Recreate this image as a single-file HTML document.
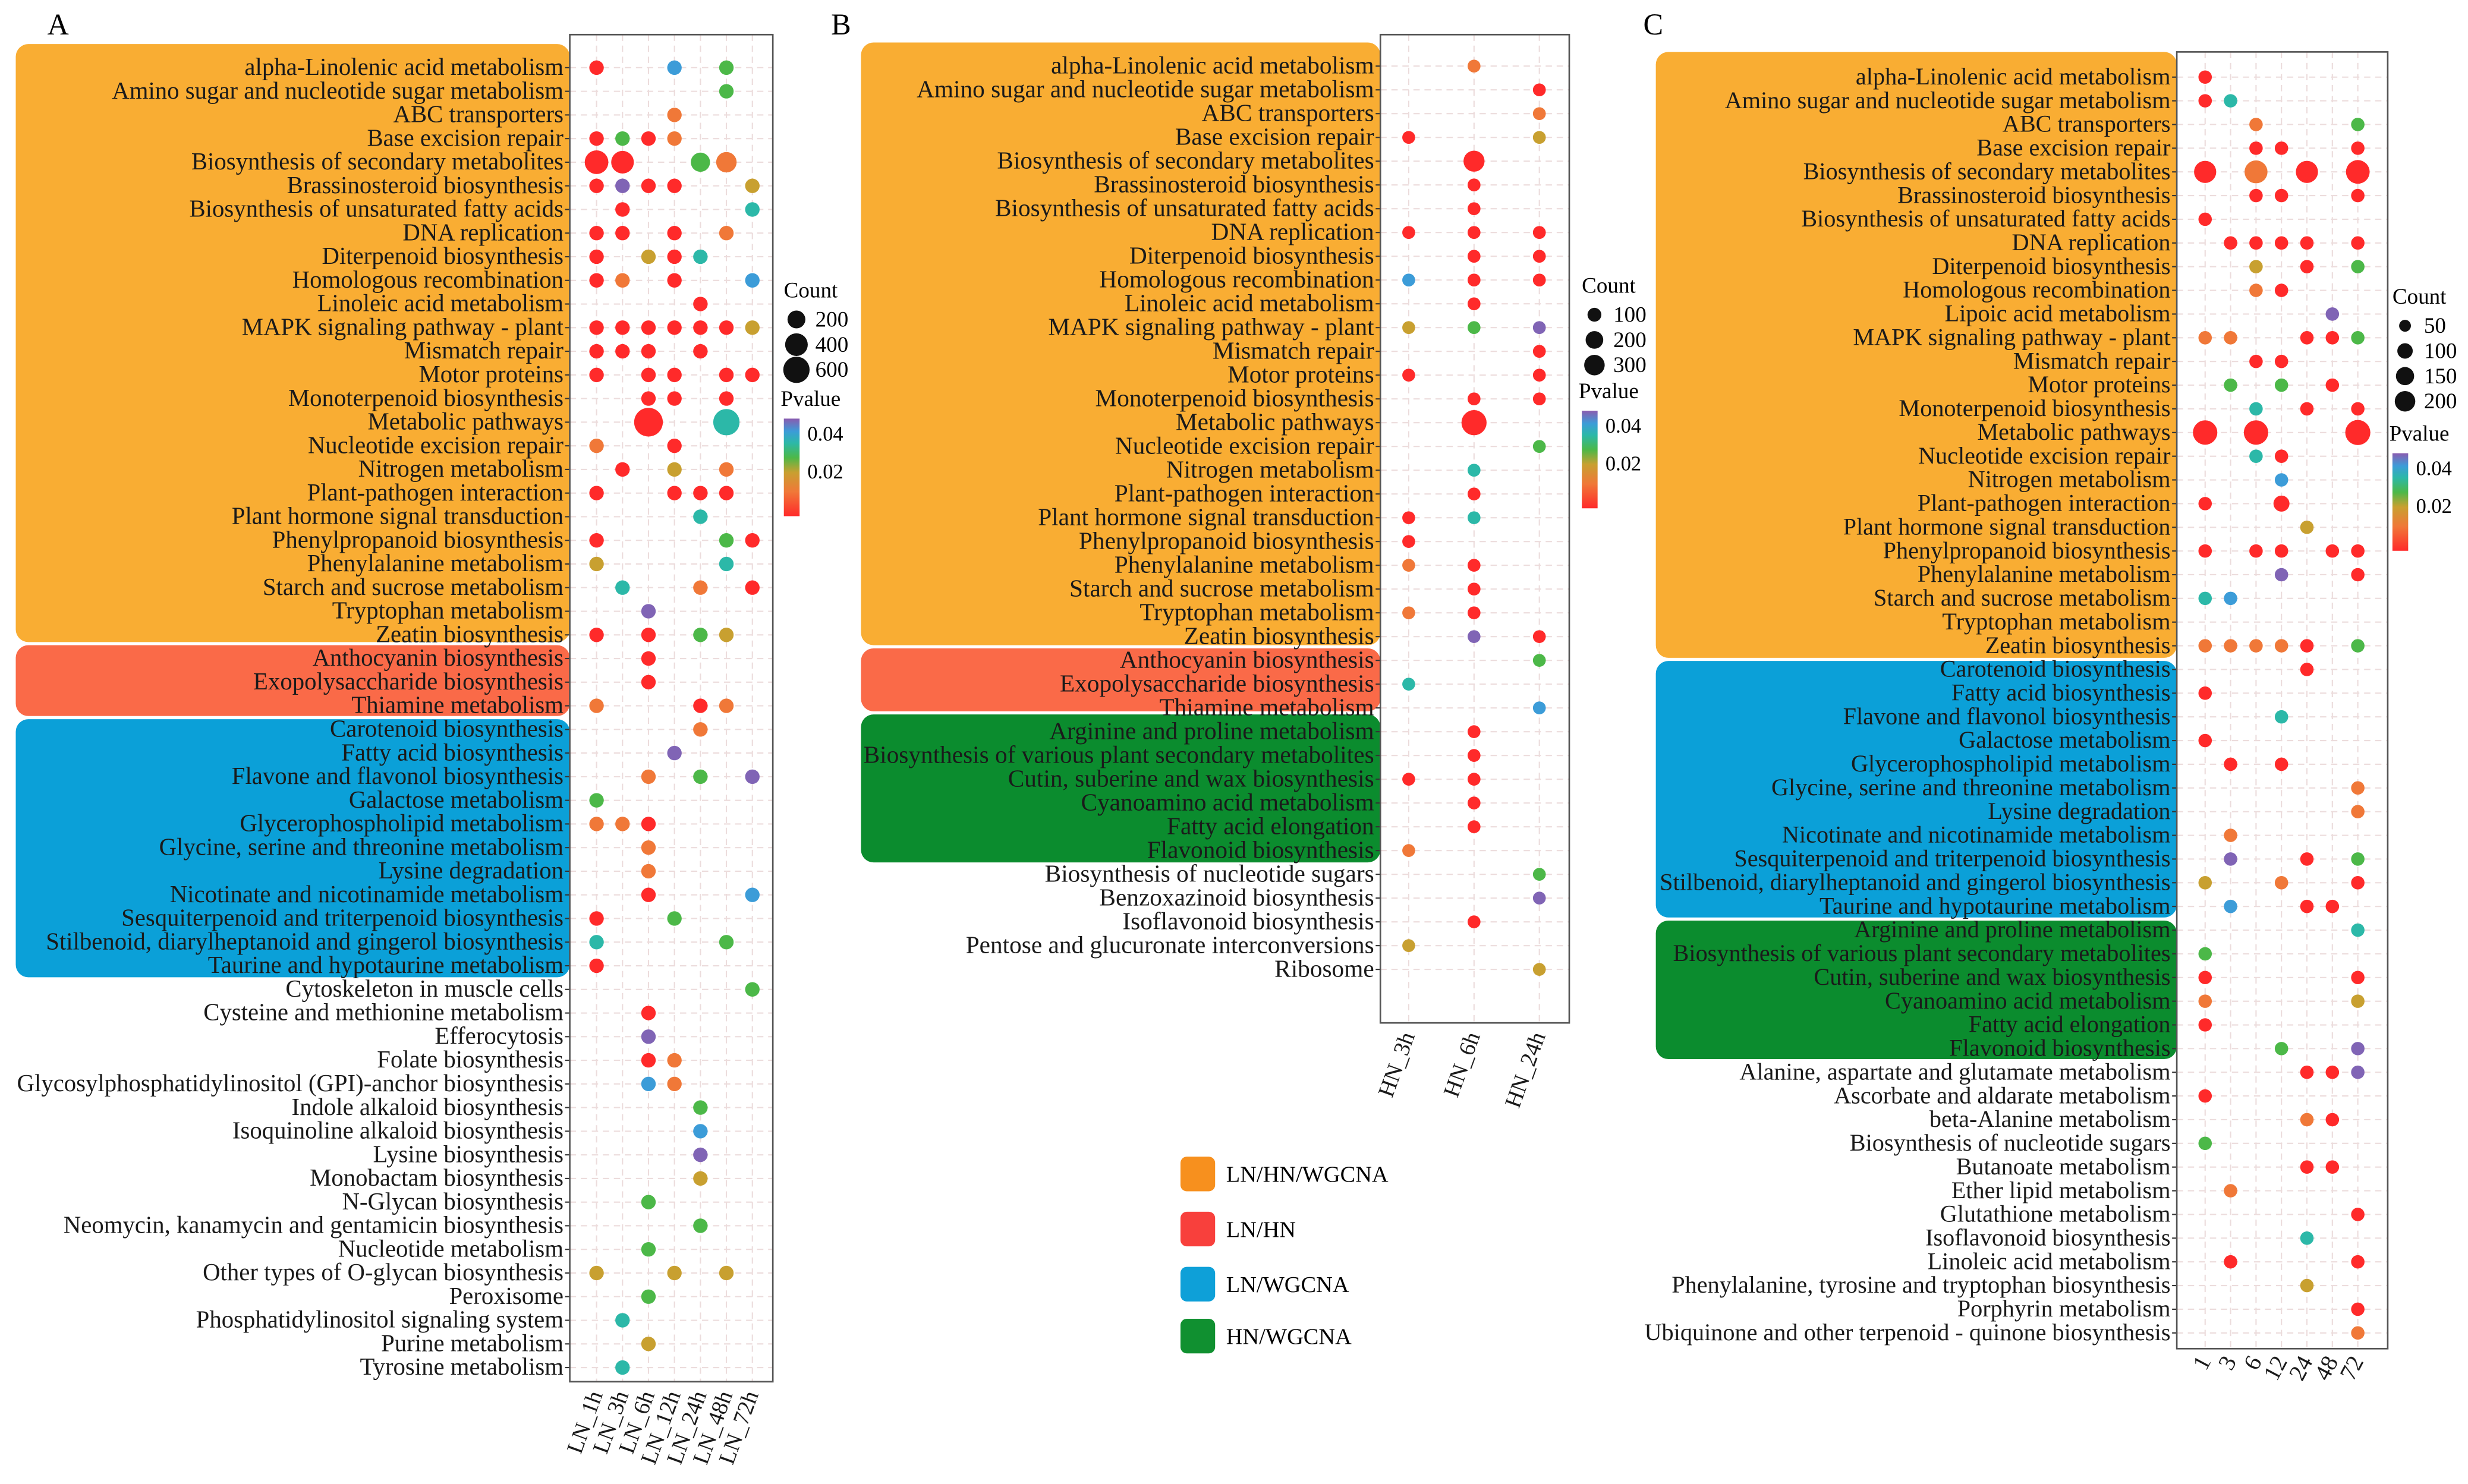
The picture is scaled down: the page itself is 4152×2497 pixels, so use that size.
<!DOCTYPE html>
<html><head><meta charset="utf-8"><style>
html,body{margin:0;padding:0;background:#fff;}
svg{display:block;font-family:"Liberation Serif",serif;}
</style></head><body>
<svg id="fig" xmlns="http://www.w3.org/2000/svg" width="4152" height="2497" viewBox="0 0 1568 943">
<text x="30" y="22" font-size="19">A</text>
<text x="528" y="22" font-size="19">B</text>
<text x="1044" y="22" font-size="19">C</text>
<g id="catlegend">
<rect x="750" y="735" width="22" height="22" rx="4" fill="#f7901e"/>
<text x="779" y="751" font-size="14.5">LN/HN/WGCNA</text>
<rect x="750" y="770" width="22" height="22" rx="4" fill="#f8403c"/>
<text x="779" y="786" font-size="14.5">LN/HN</text>
<rect x="750" y="805" width="22" height="22" rx="4" fill="#0ea0d8"/>
<text x="779" y="821" font-size="14.5">LN/WGCNA</text>
<rect x="750" y="838" width="22" height="22" rx="4" fill="#109030"/>
<text x="779" y="854" font-size="14.5">HN/WGCNA</text>
</g>
<defs><linearGradient id="pg" x1="0" y1="1" x2="0" y2="0">
<stop offset="0" stop-color="#ff2a2a"/><stop offset="0.25" stop-color="#f07838"/><stop offset="0.45" stop-color="#c8a030"/><stop offset="0.6" stop-color="#4cb848"/><stop offset="0.75" stop-color="#2cb8a8"/><stop offset="0.87" stop-color="#3c9cd8"/><stop offset="1" stop-color="#8a5cb0"/>
</linearGradient></defs>
</svg>
<script>
// ---------- DATA ----------
const rowsA = ["alpha-Linolenic acid metabolism","Amino sugar and nucleotide sugar metabolism","ABC transporters","Base excision repair","Biosynthesis of secondary metabolites","Brassinosteroid biosynthesis","Biosynthesis of unsaturated fatty acids","DNA replication","Diterpenoid biosynthesis","Homologous recombination","Linoleic acid metabolism","MAPK signaling pathway - plant","Mismatch repair","Motor proteins","Monoterpenoid biosynthesis","Metabolic pathways","Nucleotide excision repair","Nitrogen metabolism","Plant-pathogen interaction","Plant hormone signal transduction","Phenylpropanoid biosynthesis","Phenylalanine metabolism","Starch and sucrose metabolism","Tryptophan metabolism","Zeatin biosynthesis","Anthocyanin biosynthesis","Exopolysaccharide biosynthesis","Thiamine metabolism","Carotenoid biosynthesis","Fatty acid biosynthesis","Flavone and flavonol biosynthesis","Galactose metabolism","Glycerophospholipid metabolism","Glycine, serine and threonine metabolism","Lysine degradation","Nicotinate and nicotinamide metabolism","Sesquiterpenoid and triterpenoid biosynthesis","Stilbenoid, diarylheptanoid and gingerol biosynthesis","Taurine and hypotaurine metabolism","Cytoskeleton in muscle cells","Cysteine and methionine metabolism","Efferocytosis","Folate biosynthesis","Glycosylphosphatidylinositol (GPI)-anchor biosynthesis","Indole alkaloid biosynthesis","Isoquinoline alkaloid biosynthesis","Lysine biosynthesis","Monobactam biosynthesis","N-Glycan biosynthesis","Neomycin, kanamycin and gentamicin biosynthesis","Nucleotide metabolism","Other types of O-glycan biosynthesis","Peroxisome","Phosphatidylinositol signaling system","Purine metabolism","Tyrosine metabolism"];
const colsA = ["LN_1h","LN_3h","LN_6h","LN_12h","LN_24h","LN_48h","LN_72h"];
// per row: p-value code per column (r red .005, o orange .012, y olive .018, g green .024, t teal .03, b blue .036, p purple .043, . none)
const pvalA = ["r..b.g.",".....g.","...o...","rgro...","rr..go.","rprr..y",".r....t","rr.r.o.","r.yrt..","ro.r..b","....r..","rrrrrry","rrr.r..","r.rr.rr","..rr.r.","..r..t.","o..r...",".r.y.o.","r..rrr.","....t..","r....gr","y....t.",".t..o.r","..p....","r.r.gy.","..r....","..r....","o...ro.","....o..","...p...","..o.g.p","g......","oor....","..o....","..o....","..r...b","r..g...","t....g.","r......","......g","..r....","..p....","..ro...","..bo...","....g..","....b..","....p..","....y..","..g....","....g..","..g....","y..y.y.","..g....",".t.....","..y....",".t....."];
const bigA = [[4,0,450],[4,1,400],[4,4,250],[4,5,300],[15,2,750],[15,5,600]];
const countA = [200,400,600];

const rowsB = ["alpha-Linolenic acid metabolism","Amino sugar and nucleotide sugar metabolism","ABC transporters","Base excision repair","Biosynthesis of secondary metabolites","Brassinosteroid biosynthesis","Biosynthesis of unsaturated fatty acids","DNA replication","Diterpenoid biosynthesis","Homologous recombination","Linoleic acid metabolism","MAPK signaling pathway - plant","Mismatch repair","Motor proteins","Monoterpenoid biosynthesis","Metabolic pathways","Nucleotide excision repair","Nitrogen metabolism","Plant-pathogen interaction","Plant hormone signal transduction","Phenylpropanoid biosynthesis","Phenylalanine metabolism","Starch and sucrose metabolism","Tryptophan metabolism","Zeatin biosynthesis","Anthocyanin biosynthesis","Exopolysaccharide biosynthesis","Thiamine metabolism","Arginine and proline metabolism","Biosynthesis of various plant secondary metabolites","Cutin, suberine and wax biosynthesis","Cyanoamino acid metabolism","Fatty acid elongation","Flavonoid biosynthesis","Biosynthesis of nucleotide sugars","Benzoxazinoid biosynthesis","Isoflavonoid biosynthesis","Pentose and glucuronate interconversions","Ribosome"];
const colsB = ["HN_3h","HN_6h","HN_24h"];
const pvalB = [".o.","..r","..o","r.y",".r.",".r.",".r.","rrr",".rr","brr",".r.","ygp","..r","r.r",".rr",".r.","..g",".t.",".r.","rt.","r..","or.",".r.","or.",".pr","..g","t..","..b",".r.",".r.","rr.",".r.",".r.","o..","..g","..p",".r.","y..","..y"];
const bigB = [[4,1,320],[15,1,500]];
const countB = [100,200,300];

const rowsC = ["alpha-Linolenic acid metabolism","Amino sugar and nucleotide sugar metabolism","ABC transporters","Base excision repair","Biosynthesis of secondary metabolites","Brassinosteroid biosynthesis","Biosynthesis of unsaturated fatty acids","DNA replication","Diterpenoid biosynthesis","Homologous recombination","Lipoic acid metabolism","MAPK signaling pathway - plant","Mismatch repair","Motor proteins","Monoterpenoid biosynthesis","Metabolic pathways","Nucleotide excision repair","Nitrogen metabolism","Plant-pathogen interaction","Plant hormone signal transduction","Phenylpropanoid biosynthesis","Phenylalanine metabolism","Starch and sucrose metabolism","Tryptophan metabolism","Zeatin biosynthesis","Carotenoid biosynthesis","Fatty acid biosynthesis","Flavone and flavonol biosynthesis","Galactose metabolism","Glycerophospholipid metabolism","Glycine, serine and threonine metabolism","Lysine degradation","Nicotinate and nicotinamide metabolism","Sesquiterpenoid and triterpenoid biosynthesis","Stilbenoid, diarylheptanoid and gingerol biosynthesis","Taurine and hypotaurine metabolism","Arginine and proline metabolism","Biosynthesis of various plant secondary metabolites","Cutin, suberine and wax biosynthesis","Cyanoamino acid metabolism","Fatty acid elongation","Flavonoid biosynthesis","Alanine, aspartate and glutamate metabolism","Ascorbate and aldarate metabolism","beta-Alanine metabolism","Biosynthesis of nucleotide sugars","Butanoate metabolism","Ether lipid metabolism","Glutathione metabolism","Isoflavonoid biosynthesis","Linoleic acid metabolism","Phenylalanine, tyrosine and tryptophan biosynthesis","Porphyrin metabolism","Ubiquinone and other terpenoid - quinone biosynthesis"];
const colsC = ["1","3","6","12","24","48","72"];
const pvalC = ["r......","rt.....","..o...g","..rr..r","r.o.r.r","..rr..r","r......",".rrrr.r","..y.r.g","..or...",".....p.","oo..rrg","..rr...",".g.g.r.","..t.r.r","r.r...r","..tr...","...b...","r..r...","....y..","r.rr.rr","...p..r","tb.....",".......","oooor.g","....r..","r......","...t...","r......",".r.r...","......o","......o",".o.....",".p..r.g","y..o..r",".b..rr.","......t","g......","r.....r","o.....y","r......","...g..p","....rrp","r......","....or.","g......","....rr.",".o.....","......r","....t..",".r....r","....y..","......r","......o"];
const bigC = [[4,0,240],[4,2,260],[4,4,240],[4,6,280],[15,0,300],[15,2,300],[15,6,320],[18,3,110]];
const countC = [50,100,150,200];

const pCode = {r:0.005,o:0.012,y:0.018,g:0.024,t:0.03,b:0.036,p:0.043};

// ---------- RENDER ----------
const NS = "http://www.w3.org/2000/svg";
const svg = document.getElementById('fig');
function mk(tag, attrs, parent){const e=document.createElementNS(NS,tag);for(const k in attrs)e.setAttribute(k,attrs[k]);(parent||svg).appendChild(e);return e;}
const stops=[[0.005,[255,42,42]],[0.012,[240,120,56]],[0.018,[200,160,48]],[0.024,[76,184,72]],[0.03,[44,184,168]],[0.036,[60,156,216]],[0.044,[138,92,176]]];
function pColor(p){
  if(p<=stops[0][0])return 'rgb('+stops[0][1]+')';
  for(let i=1;i<stops.length;i++){if(p<=stops[i][0]){const a=stops[i-1],b=stops[i],t=(p-a[0])/(b[0]-a[0]);return 'rgb('+a[1].map((v,j)=>Math.round(v+(b[1][j]-v)*t)).join(',')+')';}}
  return 'rgb('+stops[stops.length-1][1]+')';
}
function slug(s){return s.toLowerCase().replace(/[^a-z0-9]+/g,'-').replace(/^-|-$/g,'');}

function panel(cfg){
  const g=mk('g',{});
  
  
  cfg.bands.forEach(b=>{
    const r=mk('rect',{x:cfg.bandX,y:b[0],width:cfg.box[0]-cfg.bandX,height:b[1]-b[0],rx:8,fill:b[2]},g);
    
    
  });
  const [x0,y0,x1,y1]=cfg.box;
  const n=cfg.rows.length;
  const yS=i=>cfg.yFirst+(cfg.yLast-cfg.yFirst)*i/(n-1);
  const xS=j=>cfg.xFirst+(cfg.xLast-cfg.xFirst)*j/(cfg.cols.length-1);
  const bg=mk('rect',{x:x0,y:y0,width:x1-x0,height:y1-y0,fill:'#fff'},g);
  
  
  for(let i=0;i<n;i++){
    const l=mk('line',{x1:x0,x2:x1,y1:yS(i),y2:yS(i),stroke:'#ecdcdc','stroke-width':0.8,'stroke-dasharray':'4 3'},g);
    
    
  }
  for(let j=0;j<cfg.cols.length;j++){
    const l=mk('line',{x1:xS(j),x2:xS(j),y1:y0,y2:y1,stroke:'#ecdcdc','stroke-width':0.8,'stroke-dasharray':'4 3'},g);
    
    
  }
  cfg.rows.forEach((name,i)=>{
    const t=mk('text',{x:x0-4,y:yS(i)+4.6,'font-size':cfg.rowFont,'text-anchor':'end',fill:'#1a1a1a'},g);
    t.textContent=name;
    
    
    const tk=mk('line',{x1:x0-3,x2:x0,y1:yS(i),y2:yS(i),stroke:'#333','stroke-width':0.8},g);
    
    
  });
  cfg.cols.forEach((c,j)=>{
    const x=xS(j)+4,y=y1+8;
    const t=mk('text',{x:x,y:y,'font-size':cfg.colFont,'text-anchor':'end',transform:'rotate('+cfg.rot+' '+x+' '+y+')',fill:'#1a1a1a'},g);
    t.textContent=c;
    
    
  });
  const big={};cfg.big.forEach(b=>big[b[0]+'_'+b[1]]=b[2]);
  cfg.pvals.forEach((row,i)=>{
    for(let j=0;j<row.length;j++){
      const ch=row[j]; if(ch==='.')continue;
      const cnt=big[i+'_'+j]||cfg.defCount;
      const c=mk('circle',{cx:xS(j),cy:yS(i),r:cfg.rScale(cnt),fill:pColor(pCode[ch])},g);
      
      
    }
  });
  const br=mk('rect',{x:x0,y:y0,width:x1-x0,height:y1-y0,fill:'none',stroke:'#555','stroke-width':1},g);
  
  
  const L=cfg.leg;
  const ct=mk('text',{x:L.x,y:L.countY,'font-size':14},g); ct.textContent='Count';
  
  
  cfg.counts.forEach((v,k)=>{
    const y=L.countY+14+k*L.step;
    const c=mk('circle',{cx:L.x+8,cy:y,r:cfg.rScale(v),fill:'#111'},g);
    
    
    const t=mk('text',{x:L.x+20,y:y+4.5,'font-size':14},g); t.textContent=v;
    
    
  });
  const pt=mk('text',{x:L.x-2,y:L.pY,'font-size':14},g); pt.textContent='Pvalue';
  
  
  const bar=mk('rect',{x:L.x,y:L.pY+8,width:10,height:62,fill:'url(#pg)'},g);
  
  
  [[0.04,L.pY+18],[0.02,L.pY+42]].forEach(([v,y])=>{
    const t=mk('text',{x:L.x+15,y:y+4,'font-size':13},g); t.textContent=v.toFixed(2);
    
    
  });
}

panel({id:'a',rows:rowsA,cols:colsA,pvals:pvalA,big:bigA,counts:countA,defCount:100,
  rScale:c=>2.0+0.26*Math.sqrt(c),box:[362,22,491,878],yFirst:43,yLast:869,xFirst:379,xLast:478,
  bandX:10,bands:[[28,408,'#f9ad33','ln-hn-wgcna'],[410,455,'#fa6a48','ln-hn'],[457,621,'#0ba0d8','ln-wgcna']],
  rot:-70,colFont:14.5,rowFont:15.4,leg:{x:498,countY:189,step:16,pY:258}});
panel({id:'b',rows:rowsB,cols:colsB,pvals:pvalB,big:bigB,counts:countB,defCount:80,
  rScale:c=>1.5+0.29*Math.sqrt(c),box:[877,22,997,650],yFirst:42,yLast:616,xFirst:895,xLast:978,
  bandX:547,bands:[[27,410,'#f9ad33','ln-hn-wgcna'],[412,452,'#fa6a48','ln-hn'],[454,548,'#0b8c2e','hn-wgcna']],
  rot:-70,colFont:14.5,rowFont:15.6,leg:{x:1005,countY:186,step:16,pY:253}});
panel({id:'c',rows:rowsC,cols:colsC,pvals:pvalC,big:bigC,counts:countC,defCount:70,
  rScale:c=>1.0+0.39*Math.sqrt(c),box:[1383,33,1517,857],yFirst:49,yLast:847,xFirst:1401,xLast:1498,
  bandX:1052,bands:[[33,418,'#f9ad33','ln-hn-wgcna'],[420,583,'#0ba0d8','ln-wgcna'],[585,673,'#0b8c2e','hn-wgcna']],
  rot:-62,colFont:15,rowFont:15.2,leg:{x:1520,countY:193,step:16,pY:280}});
</script>
</body></html>
